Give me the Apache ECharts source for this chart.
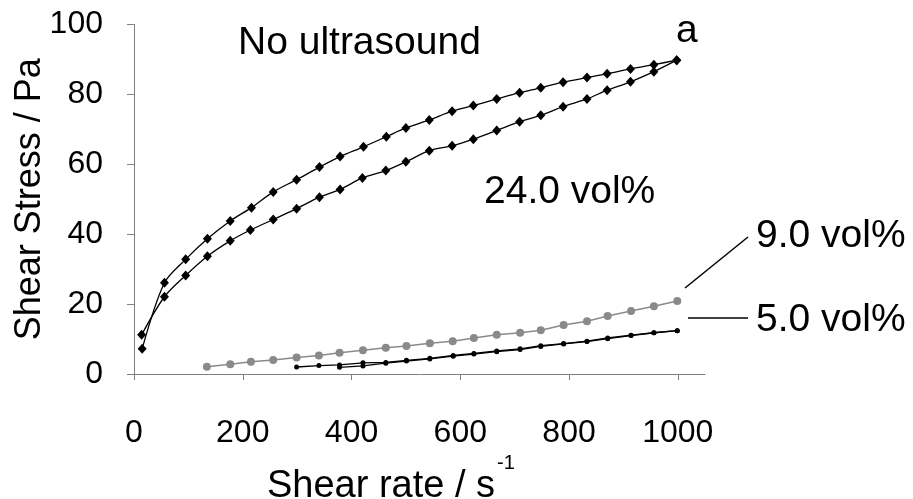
<!DOCTYPE html>
<html>
<head>
<meta charset="utf-8">
<script src="https://cdn.jsdelivr.net/npm/echarts@6/dist/echarts.min.js"></script>
<style>
  html, body { margin: 0; padding: 0; background: #fff; }
  #chart { width: 913px; height: 499px; }
</style>
</head>
<body>
<div id="chart"></div>
<script>
// 24.0 vol% - up ramp (lower branch)
var upX24 = [14, 56, 95, 135, 177, 214, 256, 299, 341, 379, 420, 463, 500, 543, 585, 624, 667, 709, 748, 789, 833, 870, 913, 956, 998];
var upY24 = [11.2, 22.1, 28.2, 33.7, 38.1, 41.2, 44.2, 47.3, 50.6, 52.8, 56.1, 58.2, 60.7, 63.9, 65.3, 67.2, 69.7, 72.2, 74.0, 76.5, 78.7, 81.2, 83.6, 86.5, 89.8];
// 24.0 vol% - down ramp (upper branch)
var downX24 = [15, 56, 95, 135, 177, 216, 256, 299, 341, 379, 422, 464, 500, 543, 585, 624, 667, 709, 748, 789, 833, 870, 913, 956, 998];
var downY24 = [7.2, 26.1, 32.8, 38.7, 43.8, 47.6, 52.1, 55.6, 59.2, 62.2, 65.0, 67.9, 70.4, 72.7, 75.2, 76.8, 78.7, 80.5, 81.9, 83.5, 84.8, 85.9, 87.3, 88.5, 89.8];
// 9.0 vol%
var x9 = [134, 177, 215, 256, 299, 340, 378, 421, 463, 501, 544, 586, 625, 667, 710, 748, 790, 833, 871, 914, 956, 999];
var y9 = [2.1, 2.8, 3.5, 4.0, 4.7, 5.3, 6.1, 6.8, 7.5, 8.0, 8.8, 9.4, 10.3, 11.2, 11.8, 12.5, 14.0, 15.1, 16.6, 18.0, 19.4, 20.9];
// 5.0 vol% - two branches
var x5a = [299, 340, 378, 421, 463, 501, 544, 587, 625, 667, 710, 748, 790, 833, 871, 914, 956, 999];
var y5a = [2.0, 2.4, 2.6, 3.2, 3.3, 3.9, 4.5, 5.3, 5.9, 6.6, 7.2, 8.1, 8.7, 9.4, 10.3, 11.1, 11.8, 12.4];
var x5b = [378, 421, 463, 501, 544, 587, 625, 667, 710, 748, 790, 833, 871, 914, 956, 999];
var y5b = [1.9, 2.3, 3.1, 3.7, 4.3, 5.1, 5.7, 6.4, 7.0, 7.9, 8.6, 9.3, 10.1, 11.0, 11.8, 12.4];

var xTicks = [0, 200, 400, 600, 800, 1000];

function pairs(xs, ys) {
  return xs.map(function (x, i) { return [x, ys[i]]; });
}

var FONT = '"Liberation Sans", Arial, Helvetica, sans-serif';
var axisGray = '#808080';

var chart = echarts.init(document.getElementById('chart'));

chart.setOption({
  animation: false,
  grid: { left: 134, right: 208, top: 24.5, bottom: 125, containLabel: false, outerBoundsMode: 'none' },
  xAxis: {
    type: 'value',
    min: 0,
    max: 1050,
    splitLine: { show: false },
    axisLine: { lineStyle: { color: axisGray, width: 1 } },
    axisTick: { show: true, length: 6, customValues: xTicks, lineStyle: { color: axisGray } },
    axisLabel: {
      customValues: xTicks, margin: 43, fontSize: 32, color: '#000', fontFamily: FONT,
      formatter: function (v) { return String(v); }
    }
  },
  yAxis: {
    type: 'value',
    min: 0,
    max: 100,
    interval: 20,
    name: 'Shear Stress / Pa',
    nameLocation: 'middle',
    nameRotate: 90,
    nameGap: 86,
    nameMoveOverlap: false,
    nameTextStyle: { fontSize: 36, color: '#000', fontFamily: FONT },
    splitLine: { show: false },
    axisLine: { show: true, lineStyle: { color: axisGray, width: 1 } },
    axisTick: { show: true, length: 7, lineStyle: { color: axisGray } },
    axisLabel: { margin: 31, fontSize: 32, color: '#000', fontFamily: FONT }
  },
  series: [
    {
      type: 'line', data: pairs(upX24, upY24), smooth: 0.3,
      symbol: 'diamond', symbolSize: [9, 10],
      lineStyle: { color: '#000', width: 1.3 }, itemStyle: { color: '#000' }
    },
    {
      type: 'line', data: pairs(downX24, downY24), smooth: 0.3,
      symbol: 'diamond', symbolSize: [9, 10],
      lineStyle: { color: '#000', width: 1.3 }, itemStyle: { color: '#000' }
    },
    {
      type: 'line', data: pairs(x9, y9),
      symbol: 'circle', symbolSize: 8,
      lineStyle: { color: '#8a8a8a', width: 1.5 }, itemStyle: { color: '#8a8a8a' }
    },
    {
      type: 'line', data: pairs(x5a, y5a),
      symbol: 'circle', symbolSize: 5,
      lineStyle: { color: '#000', width: 1.3 }, itemStyle: { color: '#000' }
    },
    {
      type: 'line', data: pairs(x5b, y5b),
      symbol: 'circle', symbolSize: 5,
      lineStyle: { color: '#000', width: 1.3 }, itemStyle: { color: '#000' }
    }
  ],
  graphic: [
    { type: 'text', left: 238, top: 24, style: { text: 'No ultrasound', font: '39px ' + FONT, fill: '#000' } },
    { type: 'text', left: 676, top: 12, style: { text: 'a', font: '39px ' + FONT, fill: '#000' } },
    { type: 'text', left: 484, top: 173, style: { text: '24.0 vol%', font: '39px ' + FONT, fill: '#000' } },
    { type: 'text', left: 756, top: 217, style: { text: '9.0 vol%', font: '39px ' + FONT, fill: '#000' } },
    { type: 'text', left: 756, top: 301, style: { text: '5.0 vol%', font: '39px ' + FONT, fill: '#000' } },
    { type: 'text', left: 267, top: 468, style: { text: 'Shear rate / s', font: '38px ' + FONT, fill: '#000' } },
    { type: 'text', left: 497, top: 453, style: { text: '-1', font: '20px ' + FONT, fill: '#000' } },
    { type: 'line', shape: { x1: 685, y1: 288, x2: 748, y2: 237 }, style: { stroke: '#000', lineWidth: 1.5 } },
    { type: 'line', shape: { x1: 688, y1: 318, x2: 748, y2: 318 }, style: { stroke: '#000', lineWidth: 1.5 } }
  ]
});
</script>
</body>
</html>
